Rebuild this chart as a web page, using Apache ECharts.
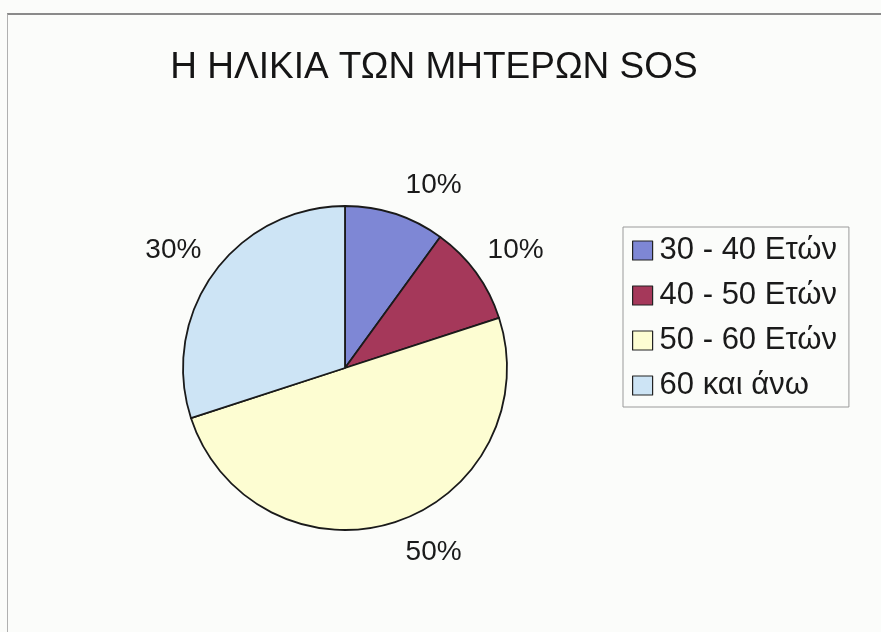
<!DOCTYPE html>
<html>
<head>
<meta charset="utf-8">
<script src="https://cdn.jsdelivr.net/npm/echarts@6/dist/echarts.min.js"></script>
<style>
  html, body { margin: 0; padding: 0; background: #fbfcfa; }
  #frame {
    position: absolute; left: 7px; top: 13px; width: 880px; height: 625px;
    border-top: 2px solid #8a8a8a; border-left: 1px solid #b0b0b0;
  }
  #chart { position: absolute; left: 0; top: 0; width: 881px; height: 632px; }
</style>
</head>
<body>
<div id="frame"></div>
<div id="chart"></div>
<script>
var titleText = 'Η ΗΛΙΚΙΑ ΤΩΝ ΜΗΤΕΡΩΝ SOS';
var ageGroups = ['30 - 40 Ετών', '40 - 50 Ετών', '50 - 60 Ετών', '60 και άνω'];
var shares = [10, 10, 50, 30];
var sliceColors = ['#7e87d5', '#a5385a', '#fdfdd2', '#cde4f5'];

var chart = echarts.init(document.getElementById('chart'));

var pieData = ageGroups.map(function (name, i) {
	return { name: name, value: shares[i], itemStyle: { color: sliceColors[i] } };
});

// small nudges so the percent labels sit where Excel put them
function nudgeLabel(params) {
	var i = params.dataIndex;
	if (i === 0) return { dy: -12 };
	if (i === 1) return { dx: -8, dy: -12 };
	if (i === 2) return { dy: 13 };
	return { dx: 7, dy: -12 };
}

chart.setOption({
	backgroundColor: 'transparent',
	animation: false,
	title: {
		text: titleText,
		left: 429, top: 44, textAlign: 'center',
		textStyle: { fontFamily: 'Liberation Sans', fontSize: 37, fontWeight: 'normal', color: '#151515' }
	},
	legend: {
		orient: 'vertical',
		left: 623, top: 227,
		padding: [8, 12, 6, 9],
		itemGap: 14,
		itemWidth: 20, itemHeight: 19,
		icon: 'rect',
		borderColor: '#9a9a9a', borderWidth: 1,
		itemStyle: { borderColor: '#222', borderWidth: 1.2 },
		textStyle: { fontFamily: 'Liberation Sans', fontSize: 31, lineHeight: 30, color: '#1a1a1a', padding: [0, 0, 0, 2] },
		data: ageGroups
	},
	series: [{
		type: 'pie',
		center: [345, 368],
		radius: 162,
		startAngle: 90,
		clockwise: true,
		itemStyle: { borderColor: '#1a1a1a', borderWidth: 1.8 },
		label: {
			show: true,
			position: 'outside',
			formatter: '{c}%',
			fontFamily: 'Liberation Sans', fontSize: 28, color: '#1a1a1a'
		},
		labelLine: { show: false, length: 18, length2: 0 },
		labelLayout: nudgeLabel,
		emphasis: { disabled: true },
		data: pieData
	}]
});
</script>
</body>
</html>
